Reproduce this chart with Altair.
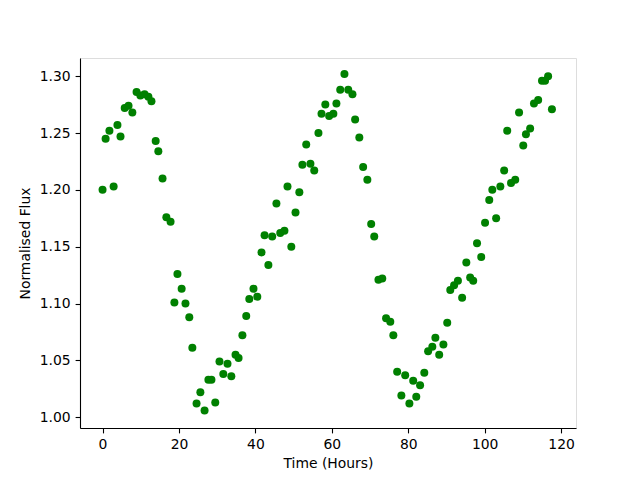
import altair as alt
import pandas as pd

hours = [0, 0.8, 1.8, 2.9, 3.9, 4.7, 5.8, 6.8, 7.8, 8.9, 9.9, 11.0, 12.0, 12.8, 13.9, 14.6,
         15.7, 16.7, 17.8, 18.8, 19.6, 20.7, 21.7, 22.7, 23.5, 24.6, 25.6, 26.7, 27.7, 28.5,
         29.5, 30.6, 31.6, 32.7, 33.7, 34.8, 35.6, 36.6, 37.6, 38.4, 39.5, 40.5, 41.6, 42.4,
         43.4, 44.4, 45.5, 46.5, 47.6, 48.4, 49.4, 50.5, 51.5, 52.3, 53.3, 54.4, 55.4, 56.5,
         57.3, 58.3, 59.3, 60.4, 61.2, 62.2, 63.3, 64.3, 65.4, 66.1, 67.2, 68.2, 69.3, 70.3,
         71.1, 72.2, 73.2, 74.2, 75.3, 76.1, 77.1, 78.2, 79.2, 80.3, 81.3, 82.1, 83.1, 84.2,
         85.2, 86.3, 87.1, 88.1, 89.2, 90.2, 91.0, 92.0, 93.0, 94.1, 95.2, 96.2, 97.0, 98.0,
         99.1, 100.1, 101.2, 102.0, 103.0, 104.1, 105.1, 105.9, 106.9, 108.0, 109.0, 110.1,
         110.8, 111.9, 112.9, 114.0, 115.0, 115.8, 116.6, 117.6]
flux = [1.200, 1.245, 1.252, 1.203, 1.257, 1.247, 1.272, 1.274, 1.268, 1.286, 1.283, 1.284,
        1.282, 1.278, 1.243, 1.234, 1.210, 1.176, 1.172, 1.101, 1.126, 1.113, 1.100, 1.088,
        1.061, 1.012, 1.022, 1.006, 1.033, 1.033, 1.013, 1.049, 1.038, 1.047, 1.036, 1.055,
        1.052, 1.072, 1.089, 1.104, 1.113, 1.106, 1.145, 1.160, 1.134, 1.159, 1.188, 1.162,
        1.164, 1.203, 1.150, 1.180, 1.198, 1.222, 1.240, 1.223, 1.217, 1.250, 1.267, 1.275,
        1.265, 1.267, 1.276, 1.288, 1.302, 1.288, 1.284, 1.262, 1.246, 1.220, 1.209, 1.170,
        1.159, 1.121, 1.122, 1.087, 1.084, 1.072, 1.040, 1.019, 1.037, 1.012, 1.032, 1.018,
        1.028, 1.039, 1.058, 1.062, 1.070, 1.055, 1.064, 1.083, 1.112, 1.116, 1.120, 1.105,
        1.136, 1.123, 1.120, 1.153, 1.141, 1.171, 1.191, 1.200, 1.175, 1.203, 1.217, 1.252,
        1.206, 1.209, 1.268, 1.239, 1.249, 1.254, 1.276, 1.279, 1.296, 1.296, 1.300, 1.271]

x_ticks = [0, 20, 40, 60, 80, 100, 120]
y_ticks = [1.00, 1.05, 1.10, 1.15, 1.20, 1.25, 1.30]

df = pd.DataFrame({"hours": hours, "flux": flux})

font = "DejaVu Sans"
axis_common = dict(
    domainColor="black", domainWidth=1.1, tickColor="black", tickWidth=1.1,
    tickSize=4.9, labelPadding=4.9, labelFont=font, labelFontSize=13.9,
    labelColor="black", titleFont=font, titleFontSize=13.9, titleFontWeight="normal",
    titleColor="black", grid=False,
)

chart = alt.Chart(df).mark_circle(size=64, color="#008000", opacity=1).encode(
    x=alt.X("hours:Q", title="Time (Hours)",
            scale=alt.Scale(domain=[-5.9, 123.9], nice=False, zero=False),
            axis=alt.Axis(values=x_ticks, titlePadding=5, **axis_common)),
    y=alt.Y("flux:Q", title="Normalised Flux",
            scale=alt.Scale(domain=[0.9905, 1.316], nice=False, zero=False),
            axis=alt.Axis(values=y_ticks, format=".2f", titlePadding=7, **axis_common)),
).properties(
    width=496, height=370,
    autosize=alt.AutoSizeParams(type="none"),
    padding={"left": 72, "top": 50, "right": 56, "bottom": 44},
).configure_view(stroke="black", strokeWidth=1.1).configure(background="white")

chart.save("out.html", embed_options={"renderer": "svg", "actions": False})
